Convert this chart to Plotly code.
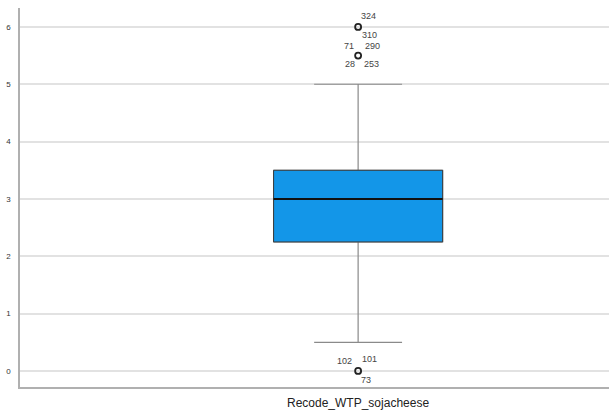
import plotly.graph_objects as go

# Summary statistics of the recoded willingness-to-pay variable
variable = "Recode_WTP_sojacheese"
q1 = [2.25]
median = [3.0]
q3 = [3.5]
lower_whisker = [0.5]
upper_whisker = [5.0]

# Outlying cases: value and case ids shown next to each marker
outlier_values = [6.0, 5.5, 0.0]
outlier_labels = [
    [("324", 10, -11), ("310", 11, 8)],
    [("71", -9, -10), ("290", 14, -10), ("28", -8, 8), ("253", 13, 8)],
    [("102", -14, -10), ("101", 11, -12), ("73", 8, 9)],
]

pos = 0.0
box_w = 0.5

fig = go.Figure()

# whiskers (grey)
fig.add_trace(go.Box(
    x=[pos], q1=q1, median=median, q3=q3,
    lowerfence=lower_whisker, upperfence=upper_whisker,
    width=box_w, whiskerwidth=0.52, boxpoints=False,
    fillcolor="#1396E8", line=dict(color="#8a8a8a", width=1.2),
    hoverinfo="skip", showlegend=False,
))
# box body with dark outline
fig.add_trace(go.Box(
    x=[pos], q1=q1, median=median, q3=q3,
    lowerfence=q1, upperfence=q3,
    width=box_w, whiskerwidth=0, boxpoints=False,
    fillcolor="#1396E8", line=dict(color="#3a3a3a", width=1),
    showlegend=False,
))
# median line
fig.add_trace(go.Scatter(
    x=[pos - box_w / 2, pos + box_w / 2], y=[median[0], median[0]],
    mode="lines", line=dict(color="#111111", width=2),
    showlegend=False, hoverinfo="skip",
))
# outliers
fig.add_trace(go.Scatter(
    x=[pos] * len(outlier_values), y=outlier_values,
    mode="markers",
    marker=dict(symbol="circle-open", size=6, color="#222222",
                line=dict(width=1.8, color="#222222")),
    showlegend=False,
))

for val, labs in zip(outlier_values, outlier_labels):
    for text, dx, dy in labs:
        fig.add_annotation(
            x=pos, y=val, text=text, showarrow=False,
            xshift=dx, yshift=-dy,
            font=dict(family="Liberation Sans, Arial", size=9, color="#444444"),
        )

fig.add_annotation(
    x=pos, y=0, xref="x", yref="paper", yanchor="top", yshift=-7,
    text=variable, showarrow=False,
    font=dict(family="Liberation Sans, Arial", size=12, color="#222222"),
)

fig.update_layout(
    width=609, height=414,
    margin=dict(l=20, r=0, t=8, b=27),
    paper_bgcolor="white", plot_bgcolor="white",
    xaxis=dict(range=[-1.0, 0.742], showticklabels=False, showgrid=False,
               zeroline=False, showline=True, linecolor="#b0b0b0", linewidth=1.5,
               ticks=""),
    yaxis=dict(range=[-0.28, 6.33], tickvals=[0, 1, 2, 3, 4, 5, 6],
               showgrid=True, gridcolor="#e2e2e2", gridwidth=1.5,
               zeroline=False, showline=True, linecolor="#b0b0b0", linewidth=1.5,
               ticks="", ticklabelstandoff=6,
               tickfont=dict(family="Liberation Sans, Arial", size=8, color="#333333")),
)

fig.write_html("out.html")
